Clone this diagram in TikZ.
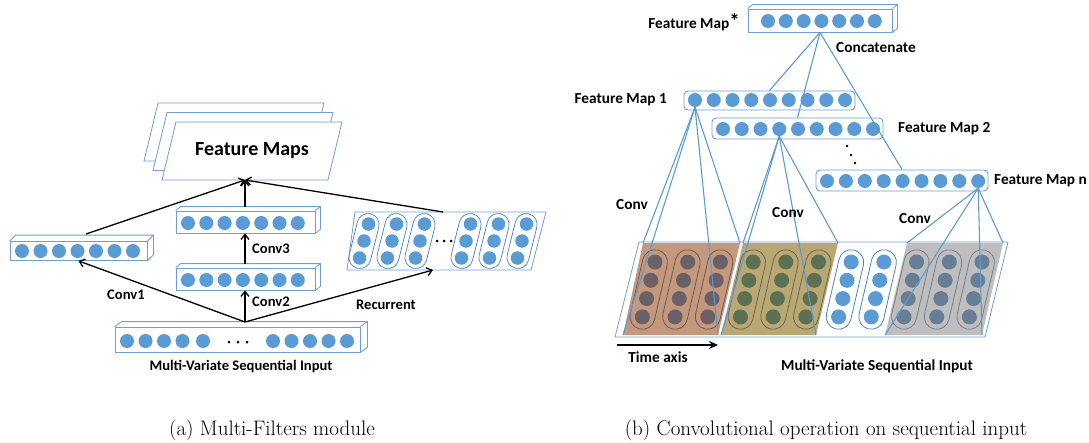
\documentclass[tikz,border=0pt]{standalone}
\usepackage{fontspec}
\newfontfamily\labfont{Carlito}
\usetikzlibrary{arrows.meta,calc}
\definecolor{cblue}{RGB}{91,155,213}
\definecolor{oblue}{RGB}{110,158,212}
\definecolor{lblue}{RGB}{91,155,213}
\definecolor{brownF}{RGB}{196,152,124}
\definecolor{brownD}{RGB}{107,96,102}
\definecolor{brownO}{RGB}{110,90,88}
\definecolor{oliveF}{RGB}{185,168,115}
\definecolor{oliveD}{RGB}{94,112,82}
\definecolor{oliveO}{RGB}{105,104,80}
\definecolor{grayF}{RGB}{190,190,190}
\definecolor{grayD}{RGB}{104,126,148}
\definecolor{grayO}{RGB}{122,127,136}
\definecolor{capO}{RGB}{79,129,189}
\newcommand\boxdepth[3]{%
  \draw[faceline] (#1.north west) -- ++(#2,-#3) -- ($(#1.north east)+(#2,-#3)$) -- ($(#1.south east)+(#2,-#3)$) -- (#1.south east);
  \draw[faceline] (#1.north east) -- ++(#2,-#3);}
\begin{document}
\begin{tikzpicture}[x=1pt,y=-1pt,
  dot/.style={circle,fill=cblue,draw=none,minimum size=14pt,inner sep=0pt},
  bdot/.style={circle,fill=black,minimum size=3pt,inner sep=0pt},
  faceline/.style={draw=oblue,line width=0.8pt},
  face/.style={draw=oblue,fill=white,line width=0.8pt,inner sep=0pt,rectangle},
  rbar/.style={draw=oblue,fill=white,line width=0.9pt,inner sep=0pt,rectangle,rounded corners=4pt},
  fmline/.style={draw=oblue,fill=white,line width=0.8pt},
  arr/.style={-{Straight Barb[length=5pt,width=8pt]},line width=1.3pt,black},
  tarr/.style={-{Stealth[length=9pt,width=8pt]},line width=1.5pt,black},
  conn/.style={lblue,line width=1.1pt},
  capsL/.style={draw=capO,line width=0.7pt,rectangle,rounded corners=11pt,minimum width=22pt,minimum height=56pt,inner sep=0pt,rotate=-14},
  capsR/.style={line width=0.8pt,rectangle,rounded corners=12.5pt,minimum width=25pt,minimum height=81pt,inner sep=0pt,rotate=-13},
  lab/.style={font=\labfont\bfseries\fontsize{14.6}{17}\selectfont,inner sep=0pt},
  rlab/.style={font=\labfont\bfseries\fontsize{15.3}{18}\selectfont,inner sep=0pt},
  biglab/.style={font=\labfont\bfseries\fontsize{20}{24}\selectfont,inner sep=0pt},
  captext/.style={font=\fontsize{21}{25}\selectfont,inner sep=0pt}]
\useasboundingbox (0,0) rectangle (1089,442);

% ================= (a) =================
\foreach \o in {2,1}
  \draw[fmline] ({176-9*\o},{122-9.5*\o}) -- ++(166,0) -- ++(-14,58) -- ++(-166,0) -- cycle;
\draw[fmline] (176,122) -- (342,122) -- (328,180) -- (162,180) -- cycle;
\node[biglab] (fmtext) at (252,151) {Feature Maps};
\coordinate (fmb) at (245,180);

\node[face,minimum width=137pt,minimum height=19pt] (b1) at (78.5,251) {};
\boxdepth{b1}{6}{6}
\foreach \i in {1,...,7} \node[dot] (b1c\i) at ({22+18.5*(\i-1)},251) {};

\node[face,minimum width=139pt,minimum height=22pt] (b3) at (245.5,222) {};
\boxdepth{b3}{5}{4}
\foreach \i in {1,...,7} \node[dot] (b3c\i) at ({188+18.3*(\i-1)},223) {};

\node[face,minimum width=139pt,minimum height=22pt] (b2) at (245.5,279) {};
\boxdepth{b2}{5}{4}
\foreach \i in {1,...,7} \node[dot] (b2c\i) at ({188+18.3*(\i-1)},280) {};

\node[face,minimum width=245pt,minimum height=25pt] (inb) at (237.5,339.5) {};
\boxdepth{inb}{7}{5}
\foreach \x [count=\i] in {127,145.5,164,182.5,203,273,291.5,310,328.5,347}
  \node[dot] (inc\i) at (\x,341) {};
\foreach \x [count=\i] in {229,238,247} \node[bdot] (ind\i) at (\x,342) {};
\coordinate (intop) at (245,322);

\draw[faceline] (355,212) -- (546,212) -- (531,270) -- (347,270) -- cycle;
\coordinate (rtop) at (443,212);
\coordinate (rbot) at (433,270);
\foreach \x [count=\k] in {364,392,420,466,494,522} {
  \node[capsL] (rc\k) at (\x,241) {};
  \node[dot,minimum size=13.5pt] (rc\k-1) at ({\x+4.5},224) {};
  \node[dot,minimum size=13.5pt] (rc\k-2) at (\x,241) {};
  \node[dot,minimum size=13.5pt] (rc\k-3) at ({\x-4.5},258) {};
}
\foreach \x [count=\i] in {437,444,451} \node[bdot] (rd\i) at (\x,241) {};

\coordinate (b1t) at (86,234);
\coordinate (b3t) at (245,207);
\coordinate (b2t) at (245,264);
\draw[arr] (b1t) -- (fmb);
\draw[arr] (b3t) -- (fmb);
\draw[arr] (rtop) -- (fmb);
\draw[arr] (b2t) -- (b3t |- b3.south);
\draw[arr] (intop) -- (intop |- b2.south);
\draw[arr] (intop) -- (b1.south);
\draw[arr] (intop) -- (rbot);

\node[lab] (l1) at (126,295) {Conv1};
\node[lab,anchor=west] (l2) at (252,302) {Conv2};
\node[lab,anchor=west] (l3) at (252,249) {Conv3};
\node[lab] (lr) at (386,305) {Recurrent};
\node[lab] (lin) at (241,367) {Multi-Variate Sequential Input};

% ================= (b) =================
\draw[faceline] (639,242) -- (1008,242) -- (985,337) -- (615,337) -- cycle;
\coordinate (br1) at (643,243); \coordinate (br2) at (740,243);
\coordinate (br3) at (718,335); \coordinate (br4) at (623,335);
\coordinate (ol1) at (743,243); \coordinate (ol2) at (838,243);
\coordinate (ol3) at (816,335); \coordinate (ol4) at (721,335);
\coordinate (gr1) at (907,243); \coordinate (gr2) at (1003,243);
\coordinate (gr3) at (982,335); \coordinate (gr4) at (885,335);
\fill[brownF] (br1) -- (br2) -- (br3) -- (br4) -- cycle;
\fill[oliveF] (ol1) -- (ol2) -- (ol3) -- (ol4) -- cycle;
\fill[grayF] (gr1) -- (gr2) -- (gr3) -- (gr4) -- cycle;
\foreach \k/\dc/\oc in {0/brownD/brownO,1/brownD/brownO,2/brownD/brownO,
  3/oliveD/oliveO,4/oliveD/oliveO,5/oliveD/oliveO,
  6/cblue/capO,7/cblue/capO,
  8/grayD/grayO,9/grayD/grayO,10/grayD/grayO} {
  \pgfmathsetmacro\xo{655+32.7*\k}
  \node[capsR,draw=\oc] (ic\k) at ({\xo-6.3},289.5) {};
  \foreach \t in {0,...,3}
    \node[dot,fill=\dc,minimum size=15pt] (ic\k-\t) at ({\xo-4.2*\t},{262+18.3*\t}) {};
}

\node[face,minimum width=144pt,minimum height=23pt] (fms) at (820,20.5) {};
\boxdepth{fms}{5}{4}
\foreach \i in {1,...,7} \node[dot] (fmsc\i) at ({768+17.8*(\i-1)},21) {};

\node[rbar,minimum width=171pt,minimum height=19pt] (fm1) at (769.5,100.5) {};
\foreach \i in {1,...,9} \node[dot] (fm1c\i) at ({695+18.75*(\i-1)},100) {};
\node[rbar,minimum width=171pt,minimum height=21pt] (fm2) at (797.5,128.5) {};
\foreach \i in {1,...,9} \node[dot] (fm2c\i) at ({723+18.75*(\i-1)},129) {};
\node[rbar,minimum width=172pt,minimum height=21pt] (fmn) at (902,180.5) {};
\foreach \i in {1,...,9} \node[dot] (fmnc\i) at ({827+18.9*(\i-1)},181) {};
\node[bdot,minimum size=2.6pt] (vd1) at (847,146) {};
\node[bdot,minimum size=2.6pt] (vd2) at (851,155) {};
\node[bdot,minimum size=2.6pt] (vd3) at (855,163) {};

\draw[conn] (fms.south) -- (fm1.north);
\draw[conn] (fms.south) -- (fm2.north);
\draw[conn] (fms.south) -- (fmn.north);
\foreach \c in {br1,br2,br3,br4} \draw[conn] (fm1c1.south) -- (\c);
\foreach \c in {ol1,ol2,ol3,ol4} \draw[conn] (fm2c4.south) -- (\c);
\foreach \c in {gr1,gr2,gr3,gr4} \draw[conn] (fmnc9.south) -- (\c);

\node[rlab,anchor=east] (tfs) at (740,22) {Feature Map{\fontsize{21}{21}\selectfont*}};
\node[rlab,anchor=west] (tcat) at (836,48) {Concatenate};
\node[rlab,anchor=east] (tf1) at (667,100) {Feature Map 1};
\node[rlab,anchor=west] (tf2) at (898,129) {Feature Map 2};
\node[rlab,anchor=west] (tfn) at (994,181) {Feature Map n};
\node[rlab] (tc1) at (632,205) {Conv};
\node[rlab] (tc2) at (788,213) {Conv};
\node[rlab] (tc3) at (915,219) {Conv};
\coordinate (ta1) at (617,345);
\coordinate (ta2) at (718,345);
\draw[tarr] (ta1) -- (ta2);
\node[rlab] (tta) at (658,357) {Time axis};
\node[rlab] (tin) at (877,366) {Multi-Variate Sequential Input};

\node[captext] (capa) at (272,430) {(a) Multi-Filters module};
\node[captext] (capb) at (826,430) {(b) Convolutional operation on sequential input};
\end{tikzpicture}
\end{document}
